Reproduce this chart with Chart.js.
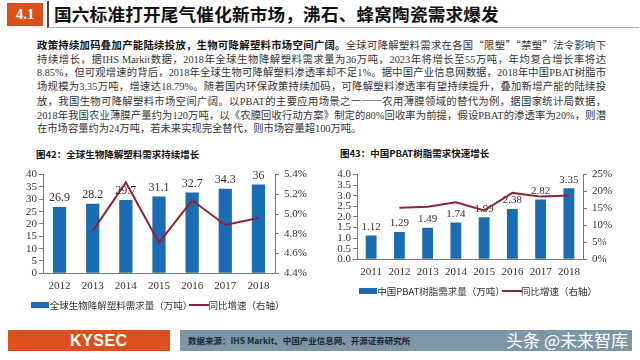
<!DOCTYPE html>
<html lang="zh">
<head>
<meta charset="utf-8">
<script src="https://cdn.jsdelivr.net/npm/chart.js@4.4.1/dist/chart.umd.min.js"></script>
<style>
  html,body{margin:0;padding:0;background:#fff;}
  body{width:640px;height:360px;position:relative;overflow:hidden;font-family:"Noto Sans CJK SC",sans-serif;color:#222;}
  .sec-no{position:absolute;left:7px;top:3px;width:36px;height:23px;background:#d9501c;color:#fff;
    font:bold 15px "Liberation Serif",serif;line-height:23px;text-align:center;}
  .sec-title{position:absolute;left:47px;top:1px;width:585px;height:26px;border-left:2px solid #444;border-bottom:1px solid #aaa;
    padding-left:5px;font-weight:bold;font-size:17.6px;line-height:26px;color:#111;letter-spacing:0.2px;}
  .para{position:absolute;left:37px;top:38px;width:569px;font-family:"Liberation Serif","Noto Sans CJK SC",serif;
    font-size:10.3px;line-height:13.7px;color:#333;}
  .para div{text-align:justify;text-align-last:justify;white-space:nowrap;}
  .para div.last{text-align-last:left;}
  .para b, .para .q{font-family:"Noto Sans CJK SC",sans-serif;}
  .para b{color:#111;}
  .fig-title{position:absolute;font-size:9.5px;font-weight:bold;color:#111;}
  .box{position:absolute;}
  .foot-l{position:absolute;left:8px;top:330px;width:162px;height:21px;background:#dd4f1d;}
  .foot-l span{position:absolute;left:62px;top:0;font:bold 16px "Liberation Sans",sans-serif;line-height:21px;color:#fff;letter-spacing:0.5px;}
  .foot-r{position:absolute;left:180px;top:330px;width:452px;height:21px;background:#7d96a7;}
  .foot-r .src{position:absolute;left:8px;top:0;font-size:8.5px;font-weight:bold;line-height:21px;color:#1b2633;}
  .foot-r .wm{position:absolute;right:4px;top:-2px;font-size:17px;line-height:24px;color:#fff;}
</style>
</head>
<body>
<div class="sec-no">4.1</div>
<div class="sec-title">国六标准打开尾气催化新市场，沸石、蜂窝陶瓷需求爆发</div>
<div class="para">
  <div><b>政策持续加码叠加产能陆续投放，生物可降解塑料市场空间广阔。</b>全球可降解塑料需求在各国<span class="q">“限塑”“禁塑”</span>法令影响下</div>
  <div>持续增长，据IHS Markit数据，2018年全球生物降解塑料需求量为36万吨，2023年将增长至55万吨，年均复合增长率将达</div>
  <div>8.85%，但可观增速的背后，2018年全球生物可降解塑料渗透率却不足1%。据中国产业信息网数据，2018年中国PBAT树脂市</div>
  <div>场规模为3.35万吨，增速达18.79%。随着国内环保政策持续加码，可降解塑料渗透率有望持续提升，叠加新增产能的陆续投</div>
  <div>放，我国生物可降解塑料市场空间广阔。以PBAT的主要应用场景之一<span class="q">——</span>农用薄膜领域的替代为例，据国家统计局数据，</div>
  <div>2018年我国农业薄膜产量约为120万吨，以《农膜回收行动方案》制定的80%回收率为前提，假设PBAT的渗透率为20%，则潜</div>
  <div class="last">在市场容量约为24万吨，若未来实现完全替代，则市场容量超100万吨。</div>
</div>

<div class="fig-title" style="left:36px;top:147px;">图42：全球生物降解塑料需求持续增长</div>
<div class="fig-title" style="left:340px;top:146px;">图43：中国PBAT树脂需求快速增长</div>

<div class="box" style="left:0;top:163px;width:320px;height:157px;"><canvas id="c42"></canvas></div>
<div class="box" style="left:320px;top:163px;width:320px;height:143px;"><canvas id="c43"></canvas></div>

<div class="foot-l"><span>KYSEC</span></div>
<div class="foot-r"><span class="src">数据来源：IHS Markit、中国产业信息网、开源证券研究所</span><span class="wm">头条 @未来智库</span></div>

<script>
// 图42
const years42   = ['2012','2013','2014','2015','2016','2017','2018'];
const demand42  = [26.9, 28.2, 29.7, 31.1, 32.7, 34.3, 36];
const growth42  = [null, 4.83, 5.32, 4.71, 5.14, 4.89, 4.96];
const label42Bar  = '全球生物降解塑料需求量（万吨）';
const label42Line = '同比增速（右轴）';

// 图43
const years43   = ['2011','2012','2013','2014','2015','2016','2017','2018'];
const demand43  = [1.12, 1.29, 1.49, 1.74, 1.99, 2.38, 2.82, 3.35];
const growth43  = [null, 15.2, 15.5, 16.8, 14.4, 19.6, 18.5, 18.8];
const label43Bar  = '中国PBAT树脂需求量（万吨）';
const label43Line = '同比增速（右轴）';

(function(){
  'use strict';

  const BLUE = '#1b6cb3';
  const RED  = '#8c2433';
  const SERIF = '"Liberation Serif", serif';
  const CJK = '"Noto Sans CJK SC", sans-serif';

  function swatch(w, h, color){
    const c = document.createElement('canvas');
    c.width = w; c.height = h;
    const g = c.getContext('2d');
    g.fillStyle = color;
    g.fillRect(0, 0, w, h);
    return c;
  }

  // values on top of the bars, drawn before the line so the line crosses them
  const barLabels = {
    id: 'barLabels',
    afterDatasetDraw(chart, args, opts){
      if (args.index !== 0) return;
      const ctx = chart.ctx;
      const ds = chart.data.datasets[0];
      ctx.save();
      ctx.font = opts.size + 'px ' + SERIF;
      ctx.fillStyle = '#333';
      ctx.textAlign = 'center';
      ctx.textBaseline = 'bottom';
      args.meta.data.forEach((bar, i) => {
        ctx.fillText(String(ds.data[i]), bar.x, bar.y - 3);
      });
      ctx.restore();
    }
  };

  function axisStyle(){
    return {
      border: {display: true, color: '#777', width: 1},
      grid: {display: true, drawOnChartArea: false, drawTicks: true, tickLength: 4, color: '#777'},
      ticks: {color: '#333', font: {family: SERIF, size: 11}, padding: 2, autoSkip: false}
    };
  }

  function makeChart(id, cfg){
    const base = axisStyle();
    return new Chart(document.getElementById(id), {
      type: 'bar',
      data: {
        labels: cfg.labels,
        datasets: [
          {type: 'bar', label: cfg.barLabel, data: cfg.bars, backgroundColor: BLUE,
           yAxisID: 'y', order: 1, barPercentage: 0.8, categoryPercentage: cfg.catPct},
          {type: 'line', label: cfg.lineLabel, data: cfg.line, borderColor: RED, borderWidth: 2,
           pointRadius: 0, tension: 0, yAxisID: 'y1', order: 0, spanGaps: false}
        ]
      },
      options: {
        responsive: true,
        maintainAspectRatio: false,
        animation: false,
        layout: {padding: cfg.padding},
        plugins: {
          tooltip: {enabled: false},
          barLabels: {size: cfg.labelSize},
          legend: {
            position: 'bottom',
            labels: {
              usePointStyle: true,
              color: '#333',
              font: {family: CJK, size: 9.5},
              padding: 2,
              generateLabels(chart){
                const ds = chart.data.datasets;
                return [
                  {text: ds[0].label, pointStyle: swatch(18, 6, BLUE), datasetIndex: 0, fontColor: '#333', lineWidth: 0},
                  {text: ds[1].label, pointStyle: swatch(20, 2, RED), datasetIndex: 1, fontColor: '#333', lineWidth: 0}
                ];
              }
            }
          }
        },
        scales: {
          x: Object.assign({}, base, {
            grid: {display: true, drawOnChartArea: false, drawTicks: false, color: '#777'},
            ticks: {color: '#333', font: {family: SERIF, size: 11}, padding: 6, autoSkip: false}
          }),
          y: Object.assign({}, base, {
            position: 'left', min: cfg.yMin, max: cfg.yMax,
            ticks: Object.assign({}, base.ticks, {stepSize: cfg.yStep, callback: cfg.yFmt}),
            afterFit(s){ s.width = cfg.yWidth; }
          }),
          y1: Object.assign({}, base, {
            position: 'right', min: cfg.rMin, max: cfg.rMax,
            ticks: Object.assign({}, base.ticks, {stepSize: cfg.rStep, callback: cfg.rFmt, padding: 5}),
            afterFit(s){ s.width = cfg.rWidth; }
          })
        }
      },
      plugins: [barLabels]
    });
  }

  function init(){
    makeChart('c42', {
      labels: years42, bars: demand42, line: growth42,
      barLabel: label42Bar, lineLabel: label42Line,
      catPct: 0.5, labelSize: 12,
      yMin: 0, yMax: 40, yStep: 5, yFmt: v => v,
      rMin: 4.4, rMax: 5.4, rStep: 0.2, rFmt: v => v.toFixed(1) + '%',
      yWidth: 43, rWidth: 45,
      padding: {top: 9, left: 0, right: 0, bottom: 0}
    });
    makeChart('c43', {
      labels: years43, bars: demand43, line: growth43,
      barLabel: label43Bar, lineLabel: label43Line,
      catPct: 0.48, labelSize: 11,
      yMin: 0, yMax: 4, yStep: 0.5, yFmt: v => v.toFixed(1),
      rMin: 0, rMax: 25, rStep: 5, rFmt: v => v + '%',
      yWidth: 37, rWidth: 57,
      padding: {top: 9, left: 0, right: 0, bottom: 0}
    });
  }

  if (document.readyState === 'loading'){
    document.addEventListener('DOMContentLoaded', init);
  } else {
    init();
  }
})();
</script>
</body>
</html>
